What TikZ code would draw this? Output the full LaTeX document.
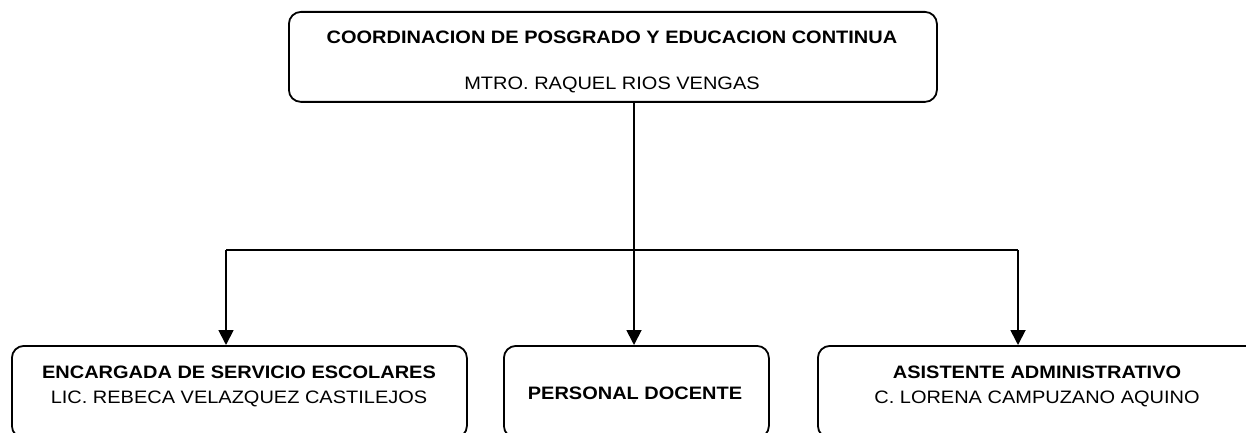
\documentclass[tikz,border=0pt]{standalone}
\usepackage{fontspec}
\setmainfont[FakeStretch=1.11]{Liberation Sans}
\usetikzlibrary{arrows.meta}
\begin{document}
\begin{tikzpicture}[x=1pt,y=-1pt,
  box/.style={draw=black, line width=1.8pt, rounded corners=12pt, inner sep=0pt, anchor=north west},
  lbl/.style={anchor=base, inner sep=0pt, font=\fontsize{18}{21}\selectfont},
  conn/.style={draw=black, line width=1.8pt},
  arr/.style={conn, -{Triangle[length=15pt,width=15pt]}}]
\useasboundingbox (0,0) rectangle (1246,433);
\clip (0,0) rectangle (1246,433);
% boxes
\node[box, minimum width=648pt, minimum height=90pt] (top) at (288,11) {};
\node[box, minimum width=455pt, minimum height=92pt] (left) at (11,345) {};
\node[box, minimum width=265pt, minimum height=92pt] (mid) at (503,345) {};
\node[box, minimum width=440pt, minimum height=92pt] (right) at (817,345) {};
% texts
\node[lbl] (t1) at (612,44) {\bfseries COORDINACION DE POSGRADO Y EDUCACION CONTINUA};
\node[lbl] (t2) at (612,90) {MTRO. RAQUEL RIOS VENGAS};
\node[lbl] (l1) at (239,378) {\bfseries ENCARGADA DE SERVICIO ESCOLARES};
\node[lbl] (l2) at (239,403) {LIC. REBECA VELAZQUEZ CASTILEJOS};
\node[lbl] (m1) at (635,399) {\bfseries PERSONAL DOCENTE};
\node[lbl] (r1) at (1037,378) {\bfseries ASISTENTE ADMINISTRATIVO};
\node[lbl] (r2) at (1037,403) {C. LORENA CAMPUZANO AQUINO};
% connectors
\coordinate (hl) at (226,250);
\coordinate (hr) at (1018,250);
\coordinate (vm) at (634,345);
\draw[arr] (top.south -| vm) -- (vm);
\draw[conn] (hl) -- (hr);
\draw[arr] (hl) -- (hl |- left.north);
\draw[arr] (hr) -- (hr |- right.north);
\end{tikzpicture}
\end{document}
